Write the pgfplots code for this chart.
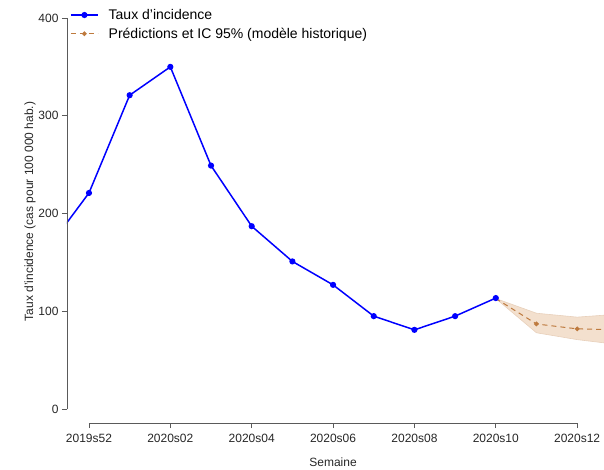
\documentclass[border=0pt]{standalone}
\usepackage{fontspec}
\setmainfont{Liberation Sans}
\usepackage{pgfplots}
\pgfplotsset{compat=1.18}
\definecolor{obs}{RGB}{0,0,255}
\definecolor{pred}{RGB}{190,122,62}
\definecolor{band}{RGB}{243,224,206}
\definecolor{axgray}{RGB}{90,90,90}
\begin{document}
\begin{tikzpicture}
\begin{axis}[
  scale only axis,
  width=537pt, height=423pt,
  xmin=-0.54, xmax=12.66,
  ymin=-14.3, ymax=418.4,
  axis lines*=left,
  axis line style={draw=none},
  tick align=outside,
  major tick length=5pt,
  tick style={axgray, line width=0.8pt},
  xtick={0,2,4,6,8,10,12},
  xticklabels={2019s52,2020s02,2020s04,2020s06,2020s08,2020s10,2020s12},
  ytick={0,100,200,300,400},
  ticklabel style={font=\fontsize{12}{14}\selectfont, text=black!85},
  x tick label style={yshift=-3pt},
  /pgf/number format/assume math mode=true,
  xlabel={Semaine},
  ylabel={Taux d'incidence (cas pour 100 000 hab.)},
  label style={font=\fontsize{12}{14}\selectfont, text=black!85},
  xlabel style={at={(axis cs:6,-14.3)}, anchor=center, yshift=-39pt},
  ylabel style={at={(rel axis cs:0,0.5)}, anchor=center, yshift=37pt},
  legend style={draw=none, fill=none, at={(rel axis cs:0,1)}, anchor=north west,
    xshift=3pt, yshift=-7pt, font=\fontsize{14}{16}\selectfont, row sep=3pt,
    inner sep=0pt},
  legend cell align=left,
  reverse legend,
  legend image code/.code={\draw[mark repeat=2, mark phase=2] plot coordinates {(0pt,0pt) (13.5pt,0pt) (27pt,0pt)}; \path (35pt,0pt);},
]
\addplot[fill=band, draw=pred!35, line width=0.6pt, forget plot] coordinates {
  (10,113) (11,98) (12,94) (13,97) (13,66) (12,71) (11,78) (10,113)} -- cycle;
\addplot[pred, dash pattern=on 5pt off 4pt, line width=1pt, mark=*, mark size=1.8pt, mark options={solid}] coordinates {
  (10,113) (11,87) (12,82) (13,81)};
\addlegendentry{Prédictions et IC 95\% (modèle historique)}
\addplot[obs, line width=1.5pt, mark=*, mark size=2.3pt] coordinates {
  (-1,165) (0,221) (1,321) (2,350) (3,249) (4,187) (5,151) (6,127) (7,95) (8,81) (9,95) (10,113.5)};
\addlegendentry{Taux d'incidence}
\coordinate (bl) at (rel axis cs:0,0);
\coordinate (tr) at (rel axis cs:1,1);
\draw[axgray, line width=0.8pt] (axis cs:0,-14.3) -- (axis cs:12,-14.3);
\draw[axgray, line width=0.8pt] (axis cs:-0.54,0) -- (axis cs:-0.54,400);
\end{axis}
\pgfresetboundingbox
\path (bl) ++(-67pt,-46pt) rectangle (tr);
\end{tikzpicture}
\end{document}
